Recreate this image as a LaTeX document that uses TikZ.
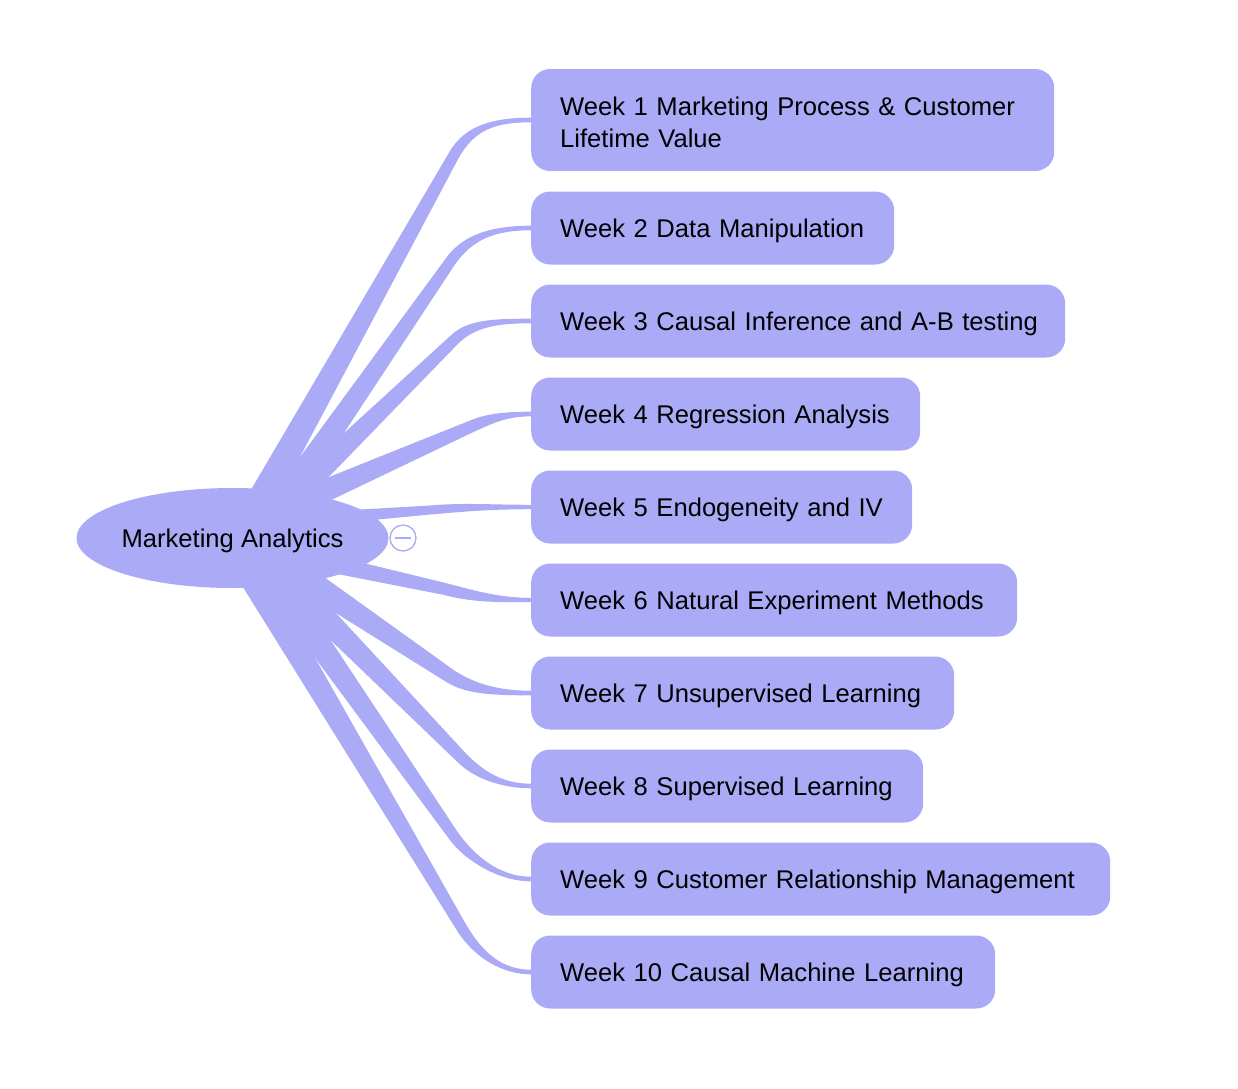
\documentclass[tikz,border=0pt]{standalone}
\usepackage{fontspec}
\setmainfont{Liberation Sans}
\usetikzlibrary{calc,shapes.geometric}
\definecolor{lav}{RGB}{170,170,246}
\newcommand\taper[8]{%
  \fill[lav] ($(#1)!#6!90:(#2)$) -- ($(#2)!#7!-90:(#1)$)
    .. controls ($(#3)!#7!-90:(#2)$) and ($(#4)!#8!90:(#5)$) .. ($(#5)!#8!-90:(#4)$)
    -- ($(#5)!#8!90:(#4)$)
    .. controls ($(#4)!#8!-90:(#5)$) and ($(#3)!#7!90:(#2)$) .. ($(#2)!#7!90:(#1)$)
    -- ($(#1)!#6!-90:(#2)$) -- cycle;}
\begin{document}
\begin{tikzpicture}[x=1pt,y=-1pt,
  wbox/.style={fill=lav, rounded corners=19pt, anchor=west, inner xsep=29pt, inner ysep=0pt,
     minimum height=73pt, align=left, font=\fontsize{25.6}{32}\selectfont, text=black,
     text height=21pt, text depth=2.6pt},
  rootnode/.style={ellipse, fill=lav, minimum width=312pt, minimum height=100pt, inner xsep=-12pt, inner ysep=0pt,
     font=\fontsize{25.6}{32}\selectfont, text=black, text height=21pt, text depth=2.6pt}]
\useasboundingbox[fill=white] (0,0) rectangle (1238,1088);
% topic boxes
\node[wbox, text width=465pt, minimum height=102pt, text depth=30.6pt] (w1) at (531,120) {\mbox{Week 1 Marketing Process \& Customer}\\\mbox{Lifetime Value}};
\node[wbox, text width=305pt] (w2) at (531,228) {\mbox{Week 2 Data Manipulation}};
\node[wbox, text width=476pt] (w3) at (531,321) {\mbox{Week 3 Causal Inference and A-B testing}};
\node[wbox, text width=331pt] (w4) at (531,414) {\mbox{Week 4 Regression Analysis}};
\node[wbox, text width=323pt] (w5) at (531,507) {\mbox{Week 5 Endogeneity and IV}};
\node[wbox, text width=428pt] (w6) at (531,600) {\mbox{Week 6 Natural Experiment Methods}};
\node[wbox, text width=365pt] (w7) at (531,693) {\mbox{Week 7 Unsupervised Learning}};
\node[wbox, text width=334pt] (w8) at (531,786) {\mbox{Week 8 Supervised Learning}};
\node[wbox, text width=521pt] (w9) at (531,879) {\mbox{Week 9 Customer Relationship Management}};
\node[wbox, text width=406pt] (w10) at (531,972) {\mbox{Week 10 Causal Machine Learning}};
% root centre reference
\coordinate (rc) at (232.5,538);
% branch geometry
\coordinate (s1) at (240,538);  \coordinate (k1) at (454,155); \coordinate (a1) at (470,127); \coordinate (b1) at (495,120);
\coordinate (s2) at (258,538);  \coordinate (k2) at (450,262); \coordinate (a2) at (468,236); \coordinate (b2) at (495,228);
\coordinate (s3) at (250,538);  \coordinate (k3) at (455,339); \coordinate (a3) at (472,323); \coordinate (b3) at (497,321);
\coordinate (s4) at (217,538);  \coordinate (k4) at (470,427); \coordinate (a4) at (488,419); \coordinate (b4) at (505,414);
\coordinate (s5) at (300,520);  \coordinate (k5) at (430,510); \coordinate (a5) at (465,507); \coordinate (b5) at (490,507);
\coordinate (s6) at (290,555);  \coordinate (k6) at (445,589); \coordinate (a6) at (475,597); \coordinate (b6) at (500,600);
\coordinate (s7) at (244,538);  \coordinate (k7) at (450,676); \coordinate (a7) at (470,689); \coordinate (b7) at (497,693);
\coordinate (s8) at (246,538);  \coordinate (k8) at (462,758); \coordinate (a8) at (477,773); \coordinate (b8) at (500,786);
\coordinate (s9) at (245,538);  \coordinate (k9) at (453,835); \coordinate (a9) at (468,856); \coordinate (b9) at (497,879);
\coordinate (s10) at (230,538); \coordinate (k10) at (460,925); \coordinate (a10) at (474,949); \coordinate (b10) at (497,972);
\taper{s1}{k1}{a1}{b1}{w1.west}{15pt}{5.5pt}{2.3pt}
\taper{s2}{k2}{a2}{b2}{w2.west}{14pt}{5.5pt}{2.3pt}
\taper{s3}{k3}{a3}{b3}{w3.west}{14pt}{5.5pt}{2.3pt}
\taper{s4}{k4}{a4}{b4}{w4.west}{15pt}{6pt}{2.3pt}
\taper{s5}{k5}{a5}{b5}{w5.west}{7pt}{4.5pt}{2.2pt}
\taper{s6}{k6}{a6}{b6}{w6.west}{9.5pt}{6pt}{2.2pt}
\taper{s7}{k7}{a7}{b7}{w7.west}{15pt}{7pt}{2.3pt}
\taper{s8}{k8}{a8}{b8}{w8.west}{15pt}{6pt}{2.3pt}
\taper{s9}{k9}{a9}{b9}{w9.west}{15pt}{5.5pt}{2.3pt}
\taper{s10}{k10}{a10}{b10}{w10.west}{15pt}{5.5pt}{2.3pt}
% root
\node[rootnode] (root) at (rc) {Marketing Analytics};
% collapse toggle
\node[circle, draw=lav, line width=1.3pt, minimum size=26pt, inner sep=0pt, fill=white] (toggle) at (403,538) {};
\draw[lav, line width=1.3pt] ($(toggle.center)+(-8,0)$) -- ($(toggle.center)+(8,0)$);
\end{tikzpicture}
\end{document}
